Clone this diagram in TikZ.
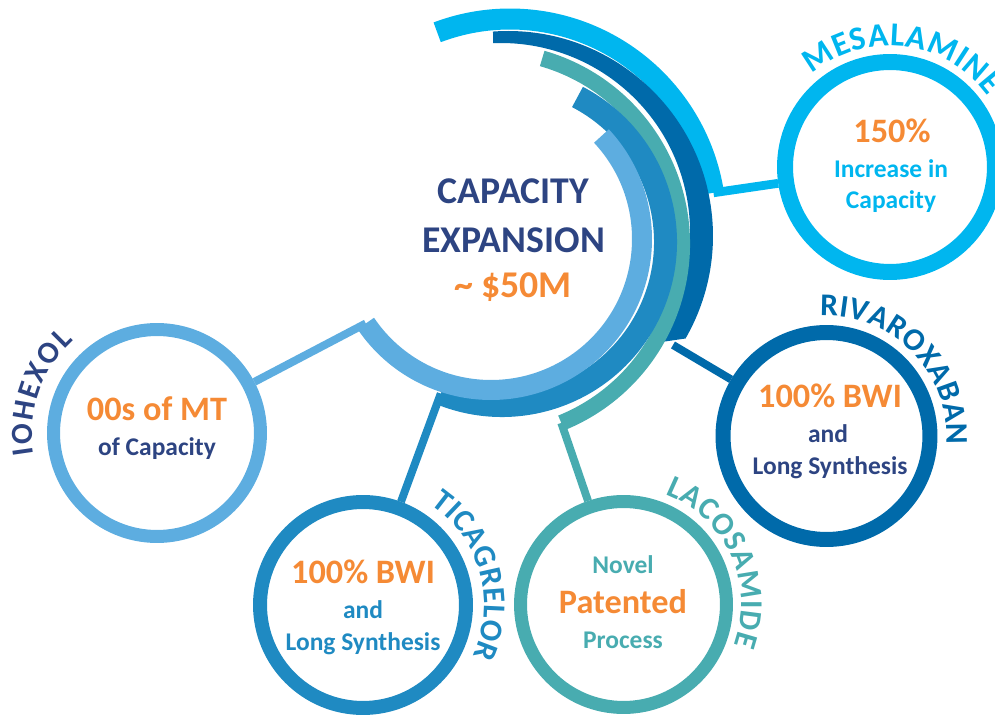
\documentclass[tikz,border=0pt]{standalone}
\usepackage{fontspec}
\setmainfont{Carlito}
\usetikzlibrary{decorations.text,calc}
\definecolor{cyanc}{HTML}{00B6EF}
\definecolor{darkc}{HTML}{006AAA}
\definecolor{tealc}{HTML}{48ACB0}
\definecolor{medc}{HTML}{1F8AC2}
\definecolor{lightc}{HTML}{5DADE0}
\definecolor{navyc}{HTML}{2D4482}
\definecolor{orangec}{HTML}{F58A35}
\newcommand\bigfont{\fontsize{19.5}{22}\selectfont\bfseries}
\newcommand\smallfont{\fontsize{14.5}{17}\selectfont\bfseries}
\newcommand\lblfont{\fontsize{18}{20}\selectfont\bfseries}
\tikzset{
  ring/.style={circle, draw=#1, inner sep=0pt},
  bigtxt/.style={font=\bigfont, text=orangec, anchor=base, inner sep=0pt},
  smalltxt/.style={font=\smallfont, text=#1, anchor=base, inner sep=0pt},
  titletxt/.style={font=\fontsize{21.5}{24}\selectfont\bfseries, text=#1, anchor=base, inner sep=0pt},
  link/.style={draw=#1, line width=4.5pt}
}
\begin{document}
\begin{tikzpicture}[x=0.02cm, y=0.02cm]
\useasboundingbox (0,0) rectangle (995,-716);
% drug circles
\node (io) [ring=lightc, line width=0.26cm, minimum size=4.14cm] at (157,-433) {};
\node (tic) [ring=medc, line width=0.28cm, minimum size=4.12cm] at (363,-605) {};
\node (laco) [ring=tealc, line width=0.26cm, minimum size=4.12cm] at (623.5,-604.5) {};
\node (riva) [ring=darkc, line width=0.3cm, minimum size=4.14cm] at (826.5,-436) {};
\node (mesa) [ring=cyanc, line width=0.32cm, minimum size=4.2cm] at (890,-167) {};
% centres of the arcs
\coordinate (cc) at (510,-225);
\coordinate (dc) at (508,-236);
\coordinate (di) at (501,-232);
\coordinate (tc) at (489,-244);
\coordinate (mc) at (502,-242);
\coordinate (lc) at (491,-239);
\path (cc) ++(9:206) coordinate (cyanend);
\coordinate (darkend) at (673,-345);
\path (tc) ++(-68:193) coordinate (tealend);
\path (mc) ++(-112:163.5) coordinate (medend);
\path (lc) ++(-146:151) coordinate (lightend);
% connectors
\draw [link=cyanc, line width=5pt] (cyanend) -- (mesa);
\draw [link=darkc] (darkend) -- (riva);
\draw [link=tealc] (tealend) -- (laco);
\draw [link=medc] (medend) -- (tic);
\draw [link=lightc] (lightend) -- (io);
% arcs
\draw [cyanc, line width=0.42cm] (cc) ++(110.7:206) arc (110.7:9:206);
\fill [darkc] (dc) ++(94.2:205) arc (94.2:-30:205) -- ($(di)+(-36:189)$) arc (-36:92.4:189) -- cycle;
\draw [tealc, line width=0.32cm] (tc) ++(74:193) arc (74:-68:193);
\draw [medc, line width=0.46cm] (mc) ++(62.5:163.5) arc (62.5:-112:163.5);
\draw [lightc, line width=0.4cm] (lc) ++(43:151) arc (43:-146:151);
% centre text
\node (t1) [titletxt=navyc] at (513.5,-204) {CAPACITY};
\node (t2) [titletxt=navyc] at (513.5,-253) {EXPANSION};
\node (t3) [titletxt=orangec] at (513,-298) {\textasciitilde{} \$50M};
% circle texts
\node (io1) [bigtxt] at (157,-420) {00s of MT};
\node (io2) [smalltxt=navyc] at (157,-456) {of Capacity};
\node (mesa1) [bigtxt] at (892,-143) {150\%};
\node (mesa2) [smalltxt=cyanc] at (891,-178) {Increase in};
\node (mesa3) [smalltxt=cyanc] at (891,-209) {Capacity};
\node (riva1) [bigtxt] at (830,-408) {100\% BWI};
\node (riva2) [smalltxt=navyc] at (828,-443) {and};
\node (riva3) [smalltxt=navyc] at (830,-475) {Long Synthesis};
\node (tic1) [bigtxt] at (363,-583) {100\% BWI};
\node (tic2) [smalltxt=medc] at (363,-618) {and};
\node (tic3) [smalltxt=medc] at (363,-650) {Long Synthesis};
\node (laco1) [smalltxt=tealc] at (623,-573) {Novel};
\node (laco2) [bigtxt] at (623,-613) {Patented};
\node (laco3) [smalltxt=tealc] at (623,-648) {Process};
% curved names
\path [decorate, decoration={text along path, text align=fit to path,
  text={|\fontsize{17.5}{20}\selectfont\bfseries\color{navyc}|IOHEXOL}}] (io.center) ++(190:125) arc (190:132:125);
\path [decorate, decoration={text along path, text align=fit to path,
  text={|\fontsize{19}{20}\selectfont\bfseries\color{cyanc}|MESALAMINE}}] (mesa.center) ++(130:121) arc (130:36:121);
\path [decorate, decoration={text along path, text align=fit to path,
  text={|\lblfont\color{darkc}|RIVAROXABAN}}] (riva.center) ++(93:120) arc (93:-4:120);
\path [decorate, decoration={text along path, text align=fit to path,
  text={|\lblfont\color{medc}|TICAGRELOR}}] (tic.center) ++(56:121) arc (56:-25:121);
\path [decorate, decoration={text along path, text align=fit to path,
  text={|\lblfont\color{tealc}|LACOSAMIDE}}] (laco.center) ++(69:118) arc (69:-20:118);
\end{tikzpicture}
\end{document}
